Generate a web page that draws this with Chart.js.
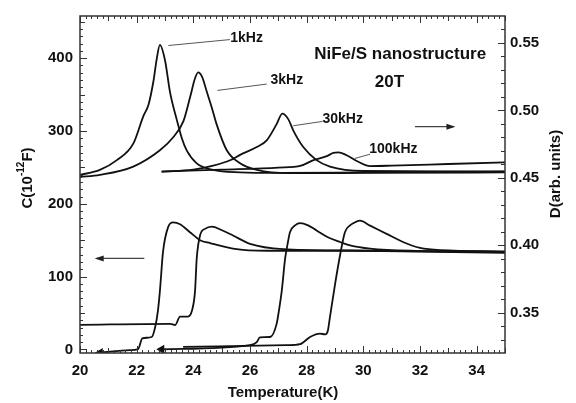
<!DOCTYPE html>
<html lang="en">
<head>
<meta charset="UTF-8">
<title>NiFe/S nanostructure 20T</title>
<script src="https://cdn.jsdelivr.net/npm/chart.js"></script>
<style>
  html, body { margin: 0; padding: 0; background: #fff; }
  #wrap { width: 576px; height: 403px; }
</style>
</head>
<body>
<div id="wrap"><canvas id="chart" width="576" height="403"></canvas></div>
<script>
// tick labels
const xTicks = [20, 22, 24, 26, 28, 30, 32, 34];
const cTicks = [0, 100, 200, 300, 400];
const dTicks = [0.35, 0.40, 0.45, 0.50, 0.55];

// loss curves D (right axis)
const t1kD = [20, 20.7, 21.3, 21.88, 22.24, 22.42, 22.59, 22.71, 22.82, 23.0, 23.18, 23.41, 23.6, 23.77, 24.12, 24.69, 25.65, 27, 30, 35];
const d1k  = [0.4521, 0.4558, 0.4631, 0.4753, 0.4959, 0.5044, 0.5214, 0.5384, 0.5486, 0.5372, 0.5131, 0.4935, 0.4789, 0.4701, 0.4607, 0.4558, 0.4540, 0.4536, 0.4540, 0.4548];

const t3kD = [20, 20.7, 21.88, 22.82, 23.29, 23.65, 23.88, 24.06, 24.17, 24.31, 24.47, 24.65, 24.82, 25.18, 25.65, 26.24, 27.4, 30, 35];
const d3k  = [0.4505, 0.4521, 0.4583, 0.4704, 0.4801, 0.4920, 0.5093, 0.5238, 0.5282, 0.5248, 0.5141, 0.5022, 0.4898, 0.4704, 0.4607, 0.4558, 0.4534, 0.4536, 0.4540];

const t30kD = [22.88, 24.0, 24.7, 25.3, 25.65, 26.24, 26.59, 26.94, 27.14, 27.35, 27.53, 27.88, 28.35, 28.82, 30, 35];
const d30k  = [0.4546, 0.4560, 0.4590, 0.4630, 0.4670, 0.4728, 0.4777, 0.4898, 0.4976, 0.4935, 0.4850, 0.4728, 0.4631, 0.4583, 0.4550, 0.4545];

const t100kD = [22.88, 25, 27, 27.8, 28.24, 28.71, 28.94, 29.12, 29.41, 29.82, 30.24, 31, 33, 35];
const d100k  = [0.4546, 0.4560, 0.4575, 0.4590, 0.4631, 0.4660, 0.4685, 0.4689, 0.4667, 0.4619, 0.4587, 0.4590, 0.4602, 0.4614];

// capacitance curves C (left axis, 10^-12 F)
const t1kC = [20.71, 21.76, 22.05, 22.2, 22.53, 22.65, 22.75, 22.82, 22.93, 23.11, 23.29, 23.53, 23.88, 24.24, 24.59, 25.4, 26.59, 29.5, 35];
const c1k  = [-4.6, -1, 0.4, 15, 17, 30, 53, 80, 134, 168, 174.5, 172, 161, 150, 146, 138.5, 135.5, 135.5, 134];

const t3kC = [20, 23.18, 23.36, 23.53, 23.81, 23.95, 24.06, 24.12, 24.24, 24.41, 24.65, 25.01, 25.4, 26, 27.17, 29.53, 35];
const c3k  = [33.7, 35, 33.5, 45, 45, 53, 80, 125, 157, 165.5, 168.7, 163.7, 156.5, 145, 137.7, 135.8, 132.7];

const t30kC = [22.88, 26, 26.24, 26.35, 26.71, 26.94, 27.02, 27.12, 27.24, 27.34, 27.41, 27.59, 27.77, 28.05, 28.35, 28.75, 29.18, 29.53, 30.24, 32, 35];
const c30k  = [0, 5.8, 10, 16.6, 17, 35, 53, 80, 125, 147.5, 161, 170.4, 173.5, 170.4, 163.3, 154, 147.5, 143, 138.5, 135.4, 134];

const t100kC = [23.64, 27.29, 27.77, 28.12, 28.47, 28.65, 28.75, 28.82, 29.0, 29.18, 29.35, 29.53, 29.65, 29.88, 30.24, 30.82, 31.4, 32, 32.71, 35];
const c100k  = [3.5, 5.8, 7.2, 17, 21.6, 20.6, 26, 44, 89, 129.6, 161, 170.4, 173.5, 176.8, 170, 158.7, 147.5, 139.4, 136.3, 134.7];

// annotation labels (data coordinates on the D axis)
const labelText = ['1kHz', '3kHz', '30kHz', '100kHz'];
const labelT = [25.88, 27.3, 29.27, 31.06];
const labelD = [0.5537, 0.5226, 0.4935, 0.4709];
const leadT0 = [23.12, 24.85, 27.53, 29.7];
const leadD0 = [0.5481, 0.5148, 0.4886, 0.4643];
const leadT1 = [25.29, 26.59, 28.56, 30.24];
const leadD1 = [0.5525, 0.5195, 0.4918, 0.4675];

const FONT = "'Liberation Sans', Arial, sans-serif";

function pts(ts, vs) {
  return ts.map((t, i) => ({ x: t, y: vs[i] }));
}

function curve(ts, vs, axis, arrow) {
  return {
    data: pts(ts, vs),
    yAxisID: axis,
    borderColor: '#111',
    backgroundColor: '#111',
    borderWidth: 1.8,
    cubicInterpolationMode: 'monotone',
    pointRadius: arrow ? (c => c.dataIndex === 0 ? 3.5 : 0) : 0,
    pointStyle: 'triangle',
    pointRotation: -90,
    fill: false
  };
}

function arrow(ctx, x0, y0, x1, y1) {
  ctx.beginPath();
  ctx.moveTo(x0, y0);
  ctx.lineTo(x1, y1);
  ctx.stroke();
  const dir = Math.sign(x1 - x0);
  ctx.beginPath();
  ctx.moveTo(x1 + dir * 2, y1);
  ctx.lineTo(x1 - dir * 7, y1 - 3);
  ctx.lineTo(x1 - dir * 7, y1 + 3);
  ctx.closePath();
  ctx.fill();
}

const frame = {
  id: 'frame',
  afterDatasetsDraw(chart) {
    const { ctx, chartArea: a, scales: { x, y, y1 } } = chart;
    ctx.save();
    ctx.strokeStyle = '#333';
    ctx.lineWidth = 1.5;
    ctx.strokeRect(a.left, a.top, a.right - a.left, a.bottom - a.top);

    // inward ticks
    ctx.lineWidth = 1;
    ctx.beginPath();
    for (let i = 0; i <= 75; i++) {
      const px = Math.round(x.getPixelForValue(20 + i * 0.2)) + 0.5;
      const len = i % 10 === 0 ? 7 : (i % 5 === 0 ? 5 : 3);
      ctx.moveTo(px, a.bottom); ctx.lineTo(px, a.bottom - len);
      ctx.moveTo(px, a.top); ctx.lineTo(px, a.top + len);
    }
    for (let v = 0; v <= 450; v += 10) {
      const py = Math.round(y.getPixelForValue(v)) + 0.5;
      const len = v % 100 === 0 ? 7 : (v % 50 === 0 ? 5 : 3);
      ctx.moveTo(a.left, py); ctx.lineTo(a.left + len, py);
    }
    for (let i = 33; i <= 56; i++) {
      const py = Math.round(y1.getPixelForValue(i / 100)) + 0.5;
      const len = i % 5 === 0 ? 7 : 4;
      ctx.moveTo(a.right, py); ctx.lineTo(a.right - len, py);
    }
    ctx.stroke();

    // leader lines and labels
    ctx.strokeStyle = '#555';
    ctx.lineWidth = 1;
    ctx.fillStyle = '#111';
    ctx.font = 'bold 14px ' + FONT;
    ctx.textAlign = 'center';
    ctx.textBaseline = 'middle';
    labelText.forEach((txt, i) => {
      ctx.beginPath();
      ctx.moveTo(x.getPixelForValue(leadT0[i]), y1.getPixelForValue(leadD0[i]));
      ctx.lineTo(x.getPixelForValue(leadT1[i]), y1.getPixelForValue(leadD1[i]));
      ctx.stroke();
      ctx.fillText(txt, x.getPixelForValue(labelT[i]), y1.getPixelForValue(labelD[i]));
    });

    ctx.font = 'bold 17px ' + FONT;
    ctx.fillText('NiFe/S nanostructure', x.getPixelForValue(31.3), y1.getPixelForValue(0.5414));
    ctx.fillText('20T', x.getPixelForValue(30.92), y1.getPixelForValue(0.5207));

    // axis pointers
    ctx.strokeStyle = '#444';
    ctx.fillStyle = '#222';
    ctx.lineWidth = 1.2;
    const ra = y1.getPixelForValue(0.4879);
    arrow(ctx, x.getPixelForValue(31.82), ra, x.getPixelForValue(33.18), ra);
    const la = y.getPixelForValue(125);
    arrow(ctx, x.getPixelForValue(22.27), la, x.getPixelForValue(20.59), la);
    ctx.restore();
  },
  afterDraw(chart) {
    const { ctx } = chart;
    ctx.save();
    ctx.fillStyle = '#111';
    ctx.textBaseline = 'middle';
    ctx.font = 'bold 15px ' + FONT;
    ctx.textAlign = 'center';
    ctx.fillText('Temperature(K)', 283, 393);

    ctx.save();
    ctx.translate(556, 174);
    ctx.rotate(-Math.PI / 2);
    ctx.fillText('D(arb. units)', 0, 0);
    ctx.restore();

    // C(10^-12 F)
    ctx.save();
    ctx.translate(28, 178);
    ctx.rotate(-Math.PI / 2);
    ctx.textAlign = 'left';
    const big = 'bold 15px ' + FONT, small = 'bold 10px ' + FONT;
    ctx.font = big;
    const w1 = ctx.measureText('C(10').width;
    const w3 = ctx.measureText('F)').width;
    ctx.font = small;
    const w2 = ctx.measureText('-12').width;
    let px = -(w1 + w2 + w3) / 2;
    ctx.font = big;
    ctx.fillText('C(10', px, 0);
    px += w1;
    ctx.font = small;
    ctx.fillText('-12', px, -7);
    px += w2;
    ctx.font = big;
    ctx.fillText('F)', px, 0);
    ctx.restore();
    ctx.restore();
  }
};

const tickFont = { family: FONT, size: 15, weight: 'bold' };
const fixed = list => s => { s.ticks = list.map(v => ({ value: v })); };

new Chart(document.getElementById('chart'), {
  type: 'line',
  data: {
    datasets: [
      curve(t1kD, d1k, 'y1'),
      curve(t3kD, d3k, 'y1'),
      curve(t30kD, d30k, 'y1'),
      curve(t100kD, d100k, 'y1'),
      curve(t1kC, c1k, 'y', true),
      curve(t3kC, c3k, 'y'),
      curve(t30kC, c30k, 'y', true),
      curve(t100kC, c100k, 'y')
    ]
  },
  options: {
    responsive: false,
    animation: false,
    devicePixelRatio: 1,
    layout: { padding: { top: 10, left: 0, right: 0, bottom: 0 } },
    plugins: { legend: { display: false }, tooltip: { enabled: false } },
    scales: {
      x: {
        type: 'linear', min: 20, max: 35,
        grid: { display: false, drawTicks: false },
        border: { display: false },
        afterBuildTicks: fixed(xTicks),
        ticks: { font: tickFont, color: '#111', padding: 9 },
        afterFit: s => { s.height = 50; }
      },
      y: {
        type: 'linear', position: 'left', min: -5, max: 458,
        grid: { display: false, drawTicks: false },
        border: { display: false },
        afterBuildTicks: fixed(cTicks),
        ticks: { font: tickFont, color: '#111', padding: 7 },
        afterFit: s => { s.width = 80; }
      },
      y1: {
        type: 'linear', position: 'right', min: 0.32, max: 0.57,
        grid: { display: false, drawTicks: false },
        border: { display: false },
        afterBuildTicks: fixed(dTicks),
        ticks: { font: tickFont, color: '#111', padding: 5, callback: v => v.toFixed(2) },
        afterFit: s => { s.width = 71; }
      }
    }
  },
  plugins: [frame]
});
</script>
</body>
</html>
